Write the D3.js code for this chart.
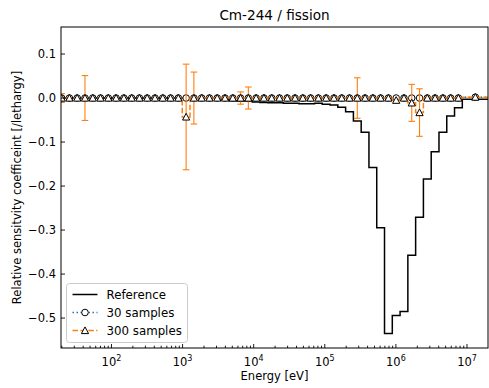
<!DOCTYPE html>
<html>
<head>
<meta charset="utf-8">
<script src="https://cdn.jsdelivr.net/npm/d3@7"></script>
<style>
  body { margin: 0; background: #fff; }
  text { font-family: "DejaVu Sans", sans-serif; fill: #000; }
</style>
</head>
<body>
<svg id="chart" width="489" height="388"></svg>
<script>
// Energy group boundaries [eV] (last group runs up to 20 MeV)
const binEdges = [17.55, 22.58, 29.05, 37.37, 48.08, 61.85, 79.57, 102.4, 131.7, 169.4,
  218.0, 280.4, 360.7, 464.2, 597.2, 768.2, 988.5, 1272, 1636, 2105,
  2708, 3484, 4482, 5768, 7421, 9546, 12280, 15800, 20330, 26150,
  33650, 43290, 55690, 71660, 92170, 118600, 152600, 196300, 252600, 324900,
  417900, 537700, 691700, 890000, 1145000, 1473000, 1895000, 2438000, 3137000, 4036000,
  5192000, 6679000, 8593000, 20000000];

// Reference sensitivity per group [/lethargy]
const referenceValues = [0, 0, 0, 0, 0, 0, 0, 0, 0, 0,
  0, 0, 0, 0, 0, 0, 0, 0, 0, 0,
  0, -0.002, -0.006, -0.007, -0.007, -0.009, -0.010, -0.011, -0.011, -0.012,
  -0.012, -0.013, -0.013, -0.012, -0.014, -0.016, -0.021, -0.031, -0.052, -0.078,
  -0.158, -0.295, -0.535, -0.494, -0.485, -0.357, -0.271, -0.184, -0.122, -0.078,
  -0.041, -0.022, -0.003];

// 30-sample estimate
const samples30 = [0, 0, 0, 0, 0, 0, 0, 0, 0, 0,
  0, 0, 0, 0, 0, 0, 0, 0, 0, 0,
  0, 0, 0, 0, 0, 0, 0, 0, 0, 0,
  0, 0, 0, 0, 0, 0, 0, 0, 0, 0,
  0, 0, 0, 0, 0, 0, 0, 0, 0, 0,
  0, 0, 0.002];

// 300-sample estimate and its statistical uncertainty
const samples300 = [0, 0, 0, 0, 0, 0, 0, 0, 0, 0,
  0, 0, 0, 0, 0, 0, -0.043, 0, 0, 0,
  0, 0, 0, 0, 0, 0, 0, 0, 0, 0,
  0, 0, 0, 0, 0, 0, 0, 0, 0, 0,
  0, 0, 0, -0.005, 0, -0.011, -0.033, 0, 0, 0,
  0, 0, 0.002];
const samples300Err = [0.010, 0, 0, 0.051, 0, 0, 0, 0, 0, 0,
  0, 0, 0, 0, 0, 0, 0.120, 0.059, 0, 0,
  0, 0, 0, 0.014, 0.025, 0, 0, 0, 0, 0,
  0, 0, 0, 0, 0, 0, 0, 0, 0.046, 0,
  0, 0, 0, 0, 0, 0.042, 0.054, 0, 0, 0,
  0, 0, 0];

const xMajorTicks = [1e2, 1e3, 1e4, 1e5, 1e6, 1e7];
const xTickExponents = ["2", "3", "4", "5", "6", "7"];
const yTicks = [-0.5, -0.4, -0.3, -0.2, -0.1, 0.0, 0.1];

const svg = d3.select("#chart");
const L = 61, R = 488, T = 27, B = 348;

const x = d3.scaleLog().domain([19.5, 1.974e7]).range([L, R]);
const y = d3.scaleLinear().domain([-0.568, 0.1614]).range([B, T]);

svg.append("defs").append("clipPath").attr("id", "plotClip")
  .append("rect").attr("x", L).attr("y", T).attr("width", R - L).attr("height", B - T);

const plot = svg.append("g").attr("clip-path", "url(#plotClip)");

// step series over group boundaries
function stepPoints(values) {
  const pts = values.map((v, i) => [binEdges[i], v]);
  pts.push([binEdges[binEdges.length - 1], values[values.length - 1]]);
  return pts;
}
const stepLine = d3.line().x(d => x(d[0])).y(d => y(d[1])).curve(d3.curveStepAfter);
const centers = referenceValues.map((_, i) => Math.sqrt(binEdges[i] * binEdges[i + 1]));

const blue = "#1f77b4", orange = "#ff7f0e";

// Reference
plot.append("path").attr("d", stepLine(stepPoints(referenceValues)))
  .attr("fill", "none").attr("stroke", "#000").attr("stroke-width", 1.5);

// 30 samples
plot.append("path").attr("d", stepLine(stepPoints(samples30)))
  .attr("fill", "none").attr("stroke", blue).attr("stroke-width", 1.5)
  .attr("stroke-dasharray", "1.5,2.5");
plot.selectAll("circle.s30").data(samples30).join("circle")
  .attr("class", "s30")
  .attr("cx", (d, i) => x(centers[i])).attr("cy", d => y(d)).attr("r", 3.3)
  .attr("fill", "#fff").attr("stroke", "#000").attr("stroke-width", 1);

// 300 samples: error bars
const eb = plot.append("g").attr("stroke", orange).attr("stroke-width", 1.1);
samples300.forEach((v, i) => {
  const e = samples300Err[i];
  if (!e) return;
  const cx = x(centers[i]);
  eb.append("line").attr("x1", cx).attr("x2", cx).attr("y1", y(v - e)).attr("y2", y(v + e));
  eb.append("line").attr("x1", cx - 3.3).attr("x2", cx + 3.3).attr("y1", y(v - e)).attr("y2", y(v - e));
  eb.append("line").attr("x1", cx - 3.3).attr("x2", cx + 3.3).attr("y1", y(v + e)).attr("y2", y(v + e));
});
plot.append("path").attr("d", stepLine(stepPoints(samples300)))
  .attr("fill", "none").attr("stroke", orange).attr("stroke-width", 1.5)
  .attr("stroke-dasharray", "5.5,2.4");
const tri = "M0,-3.6L3.6,3.1L-3.6,3.1Z";
plot.selectAll("path.s300").data(samples300).join("path")
  .attr("class", "s300").attr("d", tri)
  .attr("transform", (d, i) => `translate(${x(centers[i])},${y(d)})`)
  .attr("fill", "#fff").attr("stroke", "#000").attr("stroke-width", 1);

// Axes frame
svg.append("rect").attr("x", L).attr("y", T).attr("width", R - L).attr("height", B - T)
  .attr("fill", "none").attr("stroke", "#000").attr("stroke-width", 1);

// x ticks (inward)
const axes = svg.append("g").attr("stroke", "#000").attr("stroke-width", 0.9);
const minor = [];
for (let p = 1; p <= 7; p++) for (let m = 2; m <= 9; m++) {
  const v = m * Math.pow(10, p);
  if (v > x.domain()[0] && v < x.domain()[1]) minor.push(v);
}
minor.forEach(v => axes.append("line").attr("x1", x(v)).attr("x2", x(v)).attr("y1", B).attr("y2", B - 2.3));
xMajorTicks.forEach((v, i) => {
  axes.append("line").attr("x1", x(v)).attr("x2", x(v)).attr("y1", B).attr("y2", B - 4);
  const t = svg.append("text").attr("x", x(v)).attr("y", 366).attr("text-anchor", "middle")
    .attr("font-size", 11.5);
  t.append("tspan").text("10");
  t.append("tspan").attr("dy", -5).attr("font-size", 8).text(xTickExponents[i]);
});

// y ticks (inward)
yTicks.forEach(v => {
  axes.append("line").attr("x1", L).attr("x2", L + 4).attr("y1", y(v)).attr("y2", y(v));
  svg.append("text").attr("x", 56).attr("y", y(v) + 4.2).attr("text-anchor", "end")
    .attr("font-size", 11.5).text(d3.format(".1f")(v).replace("-", "\u2212"));
});

// Titles
svg.append("text").attr("x", (L + R) / 2).attr("y", 20).attr("text-anchor", "middle")
  .attr("font-size", 13.6).text("Cm-244 / fission");
svg.append("text").attr("x", (L + R) / 2).attr("y", 380).attr("text-anchor", "middle")
  .attr("font-size", 11.5).text("Energy [eV]");
svg.append("text").attr("transform", `translate(21,${(T + B) / 2}) rotate(-90)`)
  .attr("text-anchor", "middle").attr("font-size", 11.5)
  .text("Relative sensitvity coefficeint [/lethargy]");

// Legend
const lg = svg.append("g");
lg.append("rect").attr("x", 66.5).attr("y", 283.5).attr("width", 121).attr("height", 59).attr("rx", 3)
  .attr("fill", "#fff").attr("fill-opacity", 0.8).attr("stroke", "#ccc").attr("stroke-width", 1);
const rows = [294.5, 312.5, 330.5];
lg.append("line").attr("x1", 72.5).attr("x2", 97.5).attr("y1", rows[0]).attr("y2", rows[0])
  .attr("stroke", "#000").attr("stroke-width", 1.5);
lg.append("line").attr("x1", 72.5).attr("x2", 97.5).attr("y1", rows[1]).attr("y2", rows[1])
  .attr("stroke", blue).attr("stroke-width", 1.5).attr("stroke-dasharray", "1.5,2.5");
lg.append("circle").attr("cx", 85).attr("cy", rows[1]).attr("r", 3.3)
  .attr("fill", "#fff").attr("stroke", "#000");
lg.append("line").attr("x1", 72.5).attr("x2", 97.5).attr("y1", rows[2]).attr("y2", rows[2])
  .attr("stroke", orange).attr("stroke-width", 1.5).attr("stroke-dasharray", "5.5,2.4");
lg.append("path").attr("d", tri).attr("transform", `translate(85,${rows[2]})`)
  .attr("fill", "#fff").attr("stroke", "#000");
["Reference", "30 samples", "300 samples"].forEach((s, i) => {
  lg.append("text").attr("x", 106.5).attr("y", rows[i] + 4.3).attr("font-size", 11.8).text(s);
});
</script>
</body>
</html>
